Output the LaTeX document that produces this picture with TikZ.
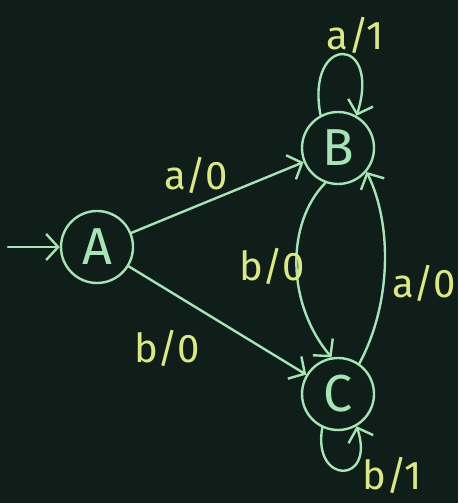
\documentclass[tikz,border=0pt]{standalone}
\usepackage{fontspec}
\setmainfont{Fira Sans}
\usetikzlibrary{arrows.meta}
\definecolor{bgc}{HTML}{0F1E18}
\definecolor{linec}{HTML}{A6E3B6}
\definecolor{labc}{HTML}{DCE887}
\tikzset{
  state/.style={circle, draw=linec, line width=2.4pt, minimum size=72pt, inner sep=0pt,
    text=linec, font=\fontsize{52}{52}\selectfont},
  edge/.style={draw=linec, line width=2.4pt, line cap=round,
    -{Straight Barb[length=12pt,width=26pt,line width=2.4pt]}},
  lab/.style={text=labc, font=\fontsize{40}{40}\selectfont, inner sep=0pt}
}
\begin{document}
\begin{tikzpicture}[x=1pt,y=1pt]
\fill[bgc] (0,0) rectangle (458,503);
\useasboundingbox (0,0) rectangle (458,503);
\node[state] (A) at (97,256) {A};
\node[state] (B) at (338,355) {B};
\node[state] (C) at (338,109) {C};
\coordinate (start) at (8,256);
\draw[edge] (start) -- (A.west);
\draw[edge] (A) -- (B);
\draw[edge] (A) -- (C);
\draw[edge] (B.250) .. controls (286,280) and (286,200) .. (C.100);
\draw[edge] (C.55) .. controls (392,200) and (392,280) .. (B.-40);
\draw[edge] (B.118) .. controls (305,469) and (382,469) .. (B.60);
\draw[edge] (C.245) .. controls (312,18) and (376,18) .. (C.300);
\node[lab] (l1) at (196,328) {a/\kern-1pt0};
\node[lab] (l2) at (167,155) {b/\kern-1pt0};
\node[lab] (l3) at (272,237) {b/\kern-1pt0};
\node[lab] (l4) at (424,220) {a/\kern-1pt0};
\node[lab] (l5) at (355,468) {a/1};
\node[lab] (l6) at (392,28) {b/1};
\end{tikzpicture}
\end{document}
